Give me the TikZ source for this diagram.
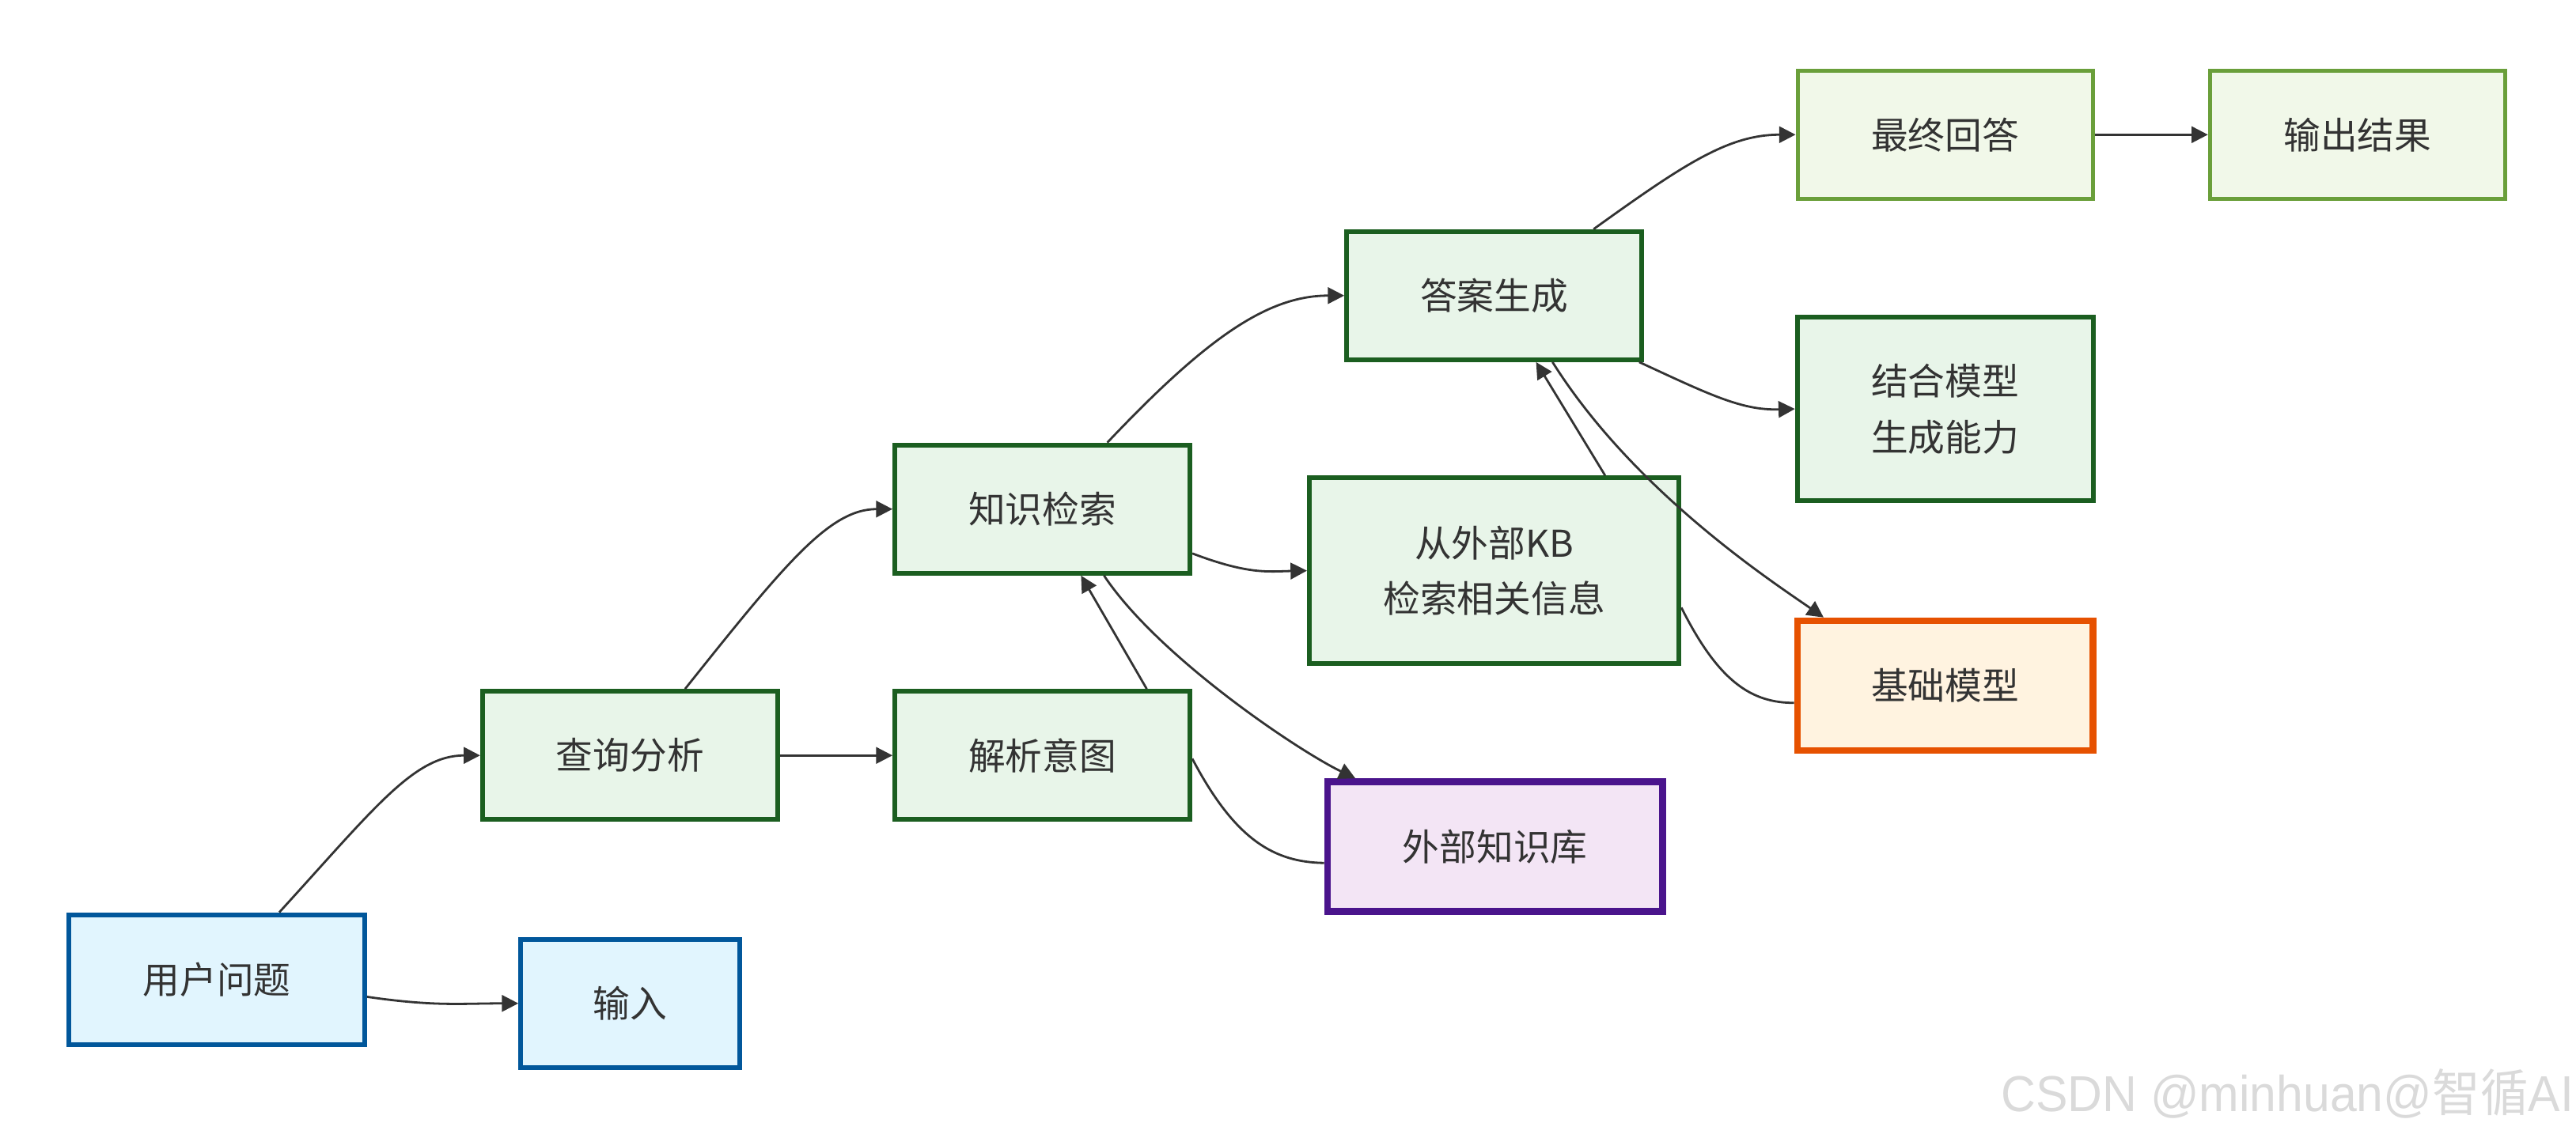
\documentclass[tikz,border=0pt]{standalone}
\usepackage{fontspec}
\newfontfamily\cjk{Noto Sans CJK SC}
\newfontfamily\wm{Liberation Sans}
\usetikzlibrary{arrows.meta,calc}
\definecolor{txt}{HTML}{333333}
\definecolor{bstroke}{HTML}{01579B}
\definecolor{bfill}{HTML}{E1F5FE}
\definecolor{gstroke}{HTML}{1B5E20}
\definecolor{gfill}{HTML}{E8F5E9}
\definecolor{lgstroke}{HTML}{6A9F3A}
\definecolor{lgfill}{HTML}{F1F8E9}
\definecolor{ostroke}{HTML}{E65100}
\definecolor{ofill}{HTML}{FFF3E0}
\definecolor{pstroke}{HTML}{4A148C}
\definecolor{pfill}{HTML}{F3E5F5}
\definecolor{wmgray}{HTML}{DADADA}
\begin{document}
\begin{tikzpicture}[x=0.52pt,y=-0.52pt,
  box/.style={draw, line width=1.5pt, inner sep=0pt, align=center, text=txt,
    font=\cjk\fontsize{11.7}{17.7}\selectfont},
  bluebox/.style={box, draw=bstroke, fill=bfill},
  greenbox/.style={box, draw=gstroke, fill=gfill},
  lgreenbox/.style={box, draw=lgstroke, fill=lgfill, line width=1.3pt},
  orangebox/.style={box, draw=ostroke, fill=ofill, line width=2.1pt},
  purplebox/.style={box, draw=pstroke, fill=pfill, line width=2.1pt},
  std/.style={minimum width=93.4pt, minimum height=40.6pt},
  edge/.style={draw=txt, line width=0.7pt},
  arr/.style={edge, -{Triangle[length=5.2pt,width=5.2pt]}}
]
\useasboundingbox (0,0) rectangle (1568,692.5);

% nodes
\node[bluebox, minimum width=93.6pt, minimum height=41.1pt] (yhwt) at (132,596.5) {用户问题};
\node[bluebox, minimum width=69.2pt, minimum height=40.6pt] (sr) at (383.5,611) {输入};
\node[greenbox, std] (cxfx) at (383.5,460) {查询分析};
\node[greenbox, std] (jxyt) at (634.5,460) {解析意图};
\node[greenbox, std] (zsjs) at (634.5,310) {知识检索};
\node[purplebox, minimum width=106.1pt, minimum height=41.1pt] (wbzsk) at (910,515.5) {外部知识库};
\node[greenbox, minimum width=117pt, minimum height=58.8pt] (cwbkb) at (909.5,347.5) {从外部KB\\检索相关信息};
\node[greenbox, std] (dasc) at (909.5,180) {答案生成};
\node[greenbox, minimum width=93.6pt, minimum height=58.2pt] (jhmx) at (1184,249) {结合模型\\生成能力};
\node[orangebox, minimum width=93.6pt, minimum height=41.1pt] (jcmx) at (1184,417.5) {基础模型};
\node[lgreenbox, std] (zzhd) at (1184,82) {最终回答};
\node[lgreenbox, std] (scjg) at (1435,82) {输出结果};

% edges
\draw[arr] ($(yhwt.north)+(38,0)$) .. controls (228,492) and (252,460) .. (cxfx.west);
\draw[arr] ($(yhwt.east)+(0,10.5)$) .. controls (265,613) and (280,611) .. (sr.west);
\draw[arr] ($(cxfx.north)+(33.5,0)$) .. controls (478,343) and (505,310) .. (zsjs.west);
\draw[arr] (cxfx.east) -- (jxyt.west);
\draw[arr] ($(jxyt.north)+(63.5,0)$) -- ($(zsjs.south)+(23.5,0)$);
\draw[edge] ($(jxyt.east)+(0,2)$) .. controls (752,512) and (776,525) .. ($(wbzsk.west)+(0,10)$);
\draw[arr] ($(zsjs.south)+(37.5,0)$) .. controls (705,400) and (790,457) .. ($(wbzsk.north)+(-85,0)$);
\draw[arr] ($(zsjs.north)+(39.5,0)$) .. controls (735,205) and (772,180) .. (dasc.west);
\draw[arr] ($(zsjs.east)+(0,27)$) .. controls (760,350) and (772,348) .. (cwbkb.west);
\draw[arr] ($(cwbkb.north)+(67.5,0)$) -- ($(dasc.south)+(25.5,0)$);
\draw[arr] ($(dasc.south)+(35.5,0)$) .. controls (995,300) and (1080,355) .. ($(jcmx.north)+(-74,0)$);
\draw[edge] ($(cwbkb.east)+(0,22.5)$) .. controls (1046,415) and (1066,428) .. ($(jcmx.west)+(0,10.5)$);
\draw[arr] ($(dasc.south east)+(-3,0)$) .. controls (1040,240) and (1060,250) .. (jhmx.west);
\draw[arr] ($(dasc.north)+(60.5,0)$) .. controls (1025,100) and (1052,82) .. (zzhd.west);
\draw[arr] (zzhd.east) -- (scjg.west);

% watermark
\node[text=wmgray, font=\wm\fontsize{16}{16}\selectfont, anchor=base east, xscale=0.95, inner sep=0pt] (wmark) at (1567,677) {CSDN @minhuan@{\cjk 智循}AI};
\end{tikzpicture}
\end{document}
